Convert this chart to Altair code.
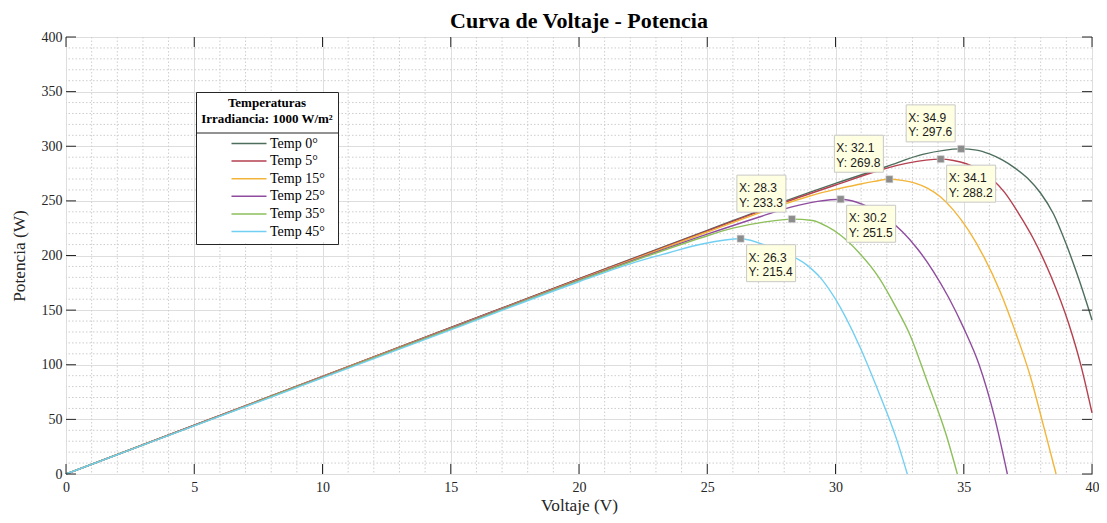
import altair as alt
import pandas as pd

# ---------------- data ----------------
names = ["Temp 0°", "Temp 5°", "Temp 15°", "Temp 25°", "Temp 35°", "Temp 45°"]
colors = ["#4e6e5d", "#b5404f", "#f2b53a", "#8f4c9f", "#8dbf5b", "#72cff2"]

v_t0 = [0, 5, 10, 15, 20, 25, 28, 30, 32, 33.4, 34.9, 35.5, 36, 36.5, 37, 37.5, 38, 38.5, 39, 39.5, 40]
p_t0 = [0, 44.7, 89.4, 134.1, 178.8, 223, 249.5, 266, 281.5, 292.5, 297.6, 296.5, 293, 287.5, 280, 270.5, 257, 238, 210, 177.5, 141]

v_t5 = [0, 5, 10, 15, 20, 25, 28, 30, 31.8, 32.8, 34.1, 34.6, 35.1, 35.6, 36.1, 36.6, 37.1, 37.7, 38.4, 39.1, 39.55, 40]
p_t5 = [0, 44.6, 89.3, 133.9, 178.5, 222.5, 248.5, 264.5, 278.5, 284.5, 288.2, 287, 284, 278.5, 270, 257.5, 240, 216, 181, 137, 101, 56]

v_t15 = [0, 5, 10, 15, 20, 25, 28, 29, 30, 30.8, 31.5, 32.1, 32.6, 33.1, 33.6, 34.1, 34.6, 35.2, 35.8, 36.4, 37, 37.6, 38.1, 38.6]
p_t15 = [0, 44.5, 89, 133.5, 178, 221.5, 247, 254.5, 260.5, 264.5, 267.8, 269.8, 268.8, 266.3, 261.5, 253.5, 241.5, 222.5, 198, 168, 131, 89, 45, 0]

v_t25 = [0, 5, 10, 15, 20, 25, 27, 28.3, 29.3, 30.2, 30.8, 31.4, 32, 32.6, 33.2, 33.8, 34.4, 35, 35.6, 36.2, 36.7]
p_t25 = [0, 44.4, 88.8, 133.2, 177.5, 219.5, 235, 244.5, 249.5, 251.5, 249, 243, 234, 222, 206, 186, 162, 133.5, 100, 52, 0]

v_t35 = [0, 5, 10, 15, 20, 23.4, 24.8, 26, 27.2, 28.3, 29.1, 29.65, 30.2, 30.9, 31.7, 32.3, 32.9, 33.6, 34.3, 34.75]
p_t35 = [0, 44.2, 88.5, 132.8, 177, 205.5, 216.5, 225, 230.5, 233.3, 232, 226.8, 218.5, 203, 179.5, 155, 127.5, 83, 37, 0]

v_t45 = [0, 5, 10, 15, 20, 22.2, 23.5, 24.8, 26.3, 27.6, 28.9, 29.4, 30, 30.9, 31.7, 32.35, 32.8]
p_t45 = [0, 44, 88, 132, 176, 194, 202.5, 210.5, 215.4, 206, 191, 180, 160, 119, 74, 34, 0]

tip_v = [34.9, 34.1, 32.1, 30.2, 28.3, 26.3]
tip_p = [297.6, 288.2, 269.8, 251.5, 233.3, 215.4]
tip_side = ["ul", "dr", "ul", "dr", "ul", "dr"]

x_ticks = [0, 5, 10, 15, 20, 25, 30, 35, 40]
y_ticks = [0, 50, 100, 150, 200, 250, 300, 350, 400]

title_text = ["Curva de Voltaje - Potencia"]

# ---------------- tables ----------------
series_v = [v_t0, v_t5, v_t15, v_t25, v_t35, v_t45]
series_p = [p_t0, p_t5, p_t15, p_t25, p_t35, p_t45]
rows = []
for n, vs, ps in zip(names, series_v, series_p):
    for v, p in zip(vs, ps):
        rows.append({"serie": n, "v": v, "p": p})
df = pd.DataFrame(rows)

df_tip = pd.DataFrame({"v": tip_v, "p": tip_p, "side": tip_side})
df_tip["label"] = [f"X: {a:.1f}\nY: {b:.1f}" for a, b in zip(tip_v, tip_p)]
df_ul = df_tip[df_tip["side"] == "ul"]
df_dr = df_tip[df_tip["side"] == "dr"]

minor_x = pd.DataFrame({"v": [i for i in range(1, 40) if i % 5 != 0]})
minor_y = pd.DataFrame({"p": [i for i in range(10, 400, 10) if i % 50 != 0]})
tx = pd.DataFrame({"v": x_ticks})
ty = pd.DataFrame({"p": y_ticks})
df_title = pd.DataFrame({"t": title_text})

W, H = 1026, 437
SERIF = "Liberation Serif"
DARK = "#262626"

# legend box geometry (pixels inside the plot area)
LG_X, LG_Y, LG_W, LG_H = 130, 55, 143, 150

X = alt.X("v:Q", title="Voltaje (V)",
          scale=alt.Scale(domain=[0, 40], nice=False, zero=False),
          axis=alt.Axis(values=x_ticks, grid=True, gridColor="#dedede", gridWidth=1,
                        ticks=False, tickSize=0, domain=False, format="d",
                        labelFont=SERIF, labelFontSize=14, labelColor=DARK,
                        labelPadding=6, labelFlush=False,
                        titleFont=SERIF, titleFontSize=17.3, titleFontWeight="normal",
                        titleColor=DARK, titlePadding=2))
Y = alt.Y("p:Q", title="Potencia (W)",
          scale=alt.Scale(domain=[0, 400], nice=False, zero=False),
          axis=alt.Axis(values=y_ticks, grid=True, gridColor="#dedede", gridWidth=1,
                        ticks=False, tickSize=0, domain=False, format="d",
                        labelFont=SERIF, labelFontSize=14, labelColor=DARK,
                        labelPadding=4, labelFlush=False,
                        titleFont=SERIF, titleFontSize=17.3, titleFontWeight="normal",
                        titleColor=DARK, titlePadding=13))

minor_gx = alt.Chart(minor_x).mark_rule(color="#cdcdcd", strokeDash=[1.5, 2], strokeWidth=1).encode(x=X)
minor_gy = alt.Chart(minor_y).mark_rule(color="#cdcdcd", strokeDash=[1.5, 2], strokeWidth=1).encode(y=Y)

legend = alt.Legend(
    title=["Temperaturas", "Irradiancia: 1000 W/m²"],
    orient="none", legendX=LG_X, legendY=LG_Y, direction="vertical",
    strokeColor=DARK, padding=5,
    titleFont=SERIF, titleFontSize=13, titleFontWeight="bold", titleColor="black",
    titleAlign="center", titleAnchor="middle", titleLineHeight=16, titlePadding=9.5,
    labelFont=SERIF, labelFontSize=14, labelColor="black",
    symbolType="M-2.5,0H2.5", symbolSize=196, symbolStrokeWidth=1.5,
    symbolOffset=31, labelOffset=13, rowPadding=2.6,
)

lines = alt.Chart(df).mark_line(interpolate="monotone", strokeWidth=1.4).encode(
    x=X, y=Y,
    color=alt.Color("serie:N", scale=alt.Scale(domain=names, range=colors), legend=legend),
)

# inside ticks (MATLAB style, all four sides)
tick_b = alt.Chart(tx).mark_rule(color=DARK).encode(x=X, y=alt.value(H), y2=alt.value(H - 10))
tick_t = alt.Chart(tx).mark_rule(color=DARK).encode(x=X, y=alt.value(0), y2=alt.value(10))
tick_l = alt.Chart(ty).mark_rule(color=DARK).encode(y=Y, x=alt.value(0), x2=alt.value(10))
tick_r = alt.Chart(ty).mark_rule(color=DARK).encode(y=Y, x=alt.value(W), x2=alt.value(W - 10))

# legend white background + divider under the header
legend_bg = alt.Chart(tx.head(1)).mark_rect(fill="white", stroke=None).encode(
    x=alt.value(LG_X), x2=alt.value(LG_X + LG_W), y=alt.value(LG_Y), y2=alt.value(LG_Y + LG_H))
divider = alt.Chart(tx.head(1)).mark_rule(color=DARK, strokeWidth=1).encode(
    x=alt.value(LG_X), x2=alt.value(LG_X + LG_W), y=alt.value(LG_Y + 41))

box_style = dict(fill="#ffffe1", stroke="#c8c8c8", strokeWidth=1)
box_ul = alt.Chart(df_ul).mark_rect(xOffset=-55, x2Offset=-6, yOffset=-44, y2Offset=-7, **box_style).encode(
    x=X, x2="v:Q", y=Y, y2="p:Q")
box_dr = alt.Chart(df_dr).mark_rect(xOffset=6, x2Offset=55, yOffset=6, y2Offset=43, **box_style).encode(
    x=X, x2="v:Q", y=Y, y2="p:Q")

txt_style = dict(font="Liberation Sans", fontSize=12, color="#1a1a1a", align="left",
                 baseline="alphabetic", lineBreak="\n", lineHeight=14.5)
txt_ul = alt.Chart(df_ul).mark_text(dx=-53, dy=-27, **txt_style).encode(x=X, y=Y, text="label:N")
txt_dr = alt.Chart(df_dr).mark_text(dx=8, dy=23, **txt_style).encode(x=X, y=Y, text="label:N")

markers = alt.Chart(df_tip).mark_square(size=50, fill="#8c8c8c", stroke="#d8d8d8",
                                         strokeWidth=0.6, opacity=1).encode(x=X, y=Y)

title = alt.Chart(df_title).mark_text(font=SERIF, fontSize=22, fontWeight="bold", color="black",
                                      align="center", baseline="alphabetic").encode(
    x=alt.value(W / 2), y=alt.value(-9), text="t:N")

chart = alt.layer(
    minor_gx, minor_gy, lines, tick_b, tick_t, tick_l, tick_r, legend_bg, divider,
    box_ul, box_dr, markers, txt_ul, txt_dr, title,
).properties(
    width=W, height=H,
    autosize=alt.AutoSizeParams(type="none"),
    padding={"left": 58, "top": 29, "right": 7, "bottom": 41},
).configure_view(stroke=DARK, strokeWidth=1)

chart.save("out.html", embed_options={"renderer": "svg", "actions": False})
